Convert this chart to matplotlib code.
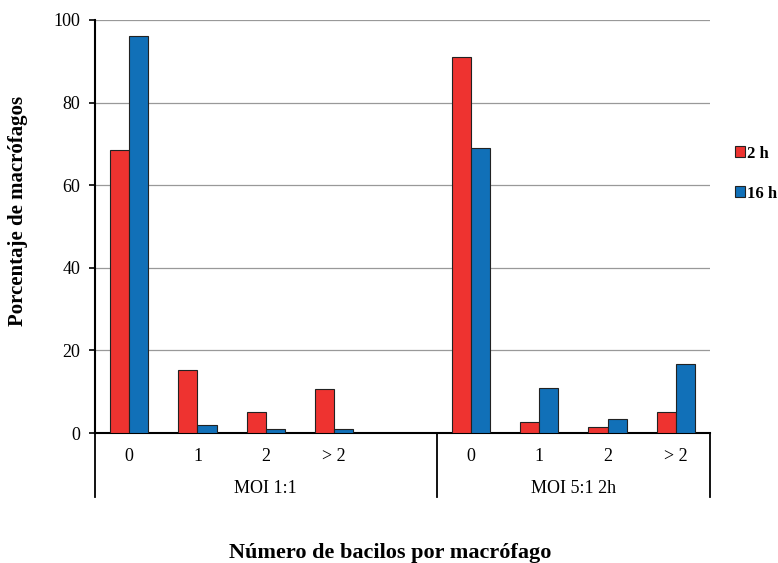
import numpy as np
import matplotlib
matplotlib.use("Agg")
import matplotlib.pyplot as plt

plt.rcParams['font.family'] = ['Liberation Serif', 'DejaVu Serif']

grupos = ['MOI 1:1', 'MOI 5:1 2h']
categorias = ['0', '1', '2', '> 2']
series = ['2 h', '16 h']
valores_2h = [68.6, 15.2, 5.2, 10.7, 91.0, 2.7, 1.5, 5.0]
valores_16h = [96.2, 1.9, 1.0, 0.9, 69.0, 11.0, 3.5, 16.7]
cores = ['#EE3330', '#1170B8']

# left group has one empty slot after "> 2"
pos = np.array([0, 1, 2, 3, 5, 6, 7, 8])
bar_larg = 0.28

fig = plt.figure(figsize=(7.78, 5.63), dpi=100)
ax = fig.add_axes([0.1221, 0.2309, 0.7905, 0.7336])

ax.bar(pos - bar_larg / 2, valores_2h, bar_larg, color=cores[0],
       edgecolor='#222222', linewidth=0.8, label=series[0], zorder=3)
ax.bar(pos + bar_larg / 2, valores_16h, bar_larg, color=cores[1],
       edgecolor='#222222', linewidth=0.8, label=series[1], zorder=3)

ax.set_xlim(-0.5, 8.5)
ax.set_ylim(0, 100)
ax.set_yticks(np.arange(0, 101, 20))
ax.yaxis.grid(True, color='#999999', linewidth=0.9, zorder=0)
ax.tick_params(axis='y', direction='out', length=4.5, width=1.2, labelsize=13, pad=6)

ax.set_xticks(pos)
ax.set_xticklabels(categorias * 2, fontsize=13)
ax.tick_params(axis='x', length=0, pad=11)

for s in ['top', 'right']:
    ax.spines[s].set_visible(False)
ax.spines['left'].set_linewidth(1.5)
ax.spines['bottom'].set_linewidth(1.5)

# multi-level category axis
trans = ax.get_xaxis_transform()
baixo = -64 / 413
for x in [-0.5, 4.5, 8.5]:
    ax.plot([x, x], [0, baixo], color='black', linewidth=1.3,
            transform=trans, clip_on=False)
ax.text(2.0, -55 / 413, grupos[0], transform=trans, ha='center',
        va='center', fontsize=13)
ax.text(6.5, -55 / 413, grupos[1], transform=trans, ha='center',
        va='center', fontsize=13)

fig.text(0.023, 0.625, 'Porcentaje de macrófagos', rotation=90, ha='center',
         va='center', fontsize=15, fontweight='bold')
fig.text(0.502, 0.018, 'Número de bacilos por macrófago', ha='center',
         va='center', fontsize=16, fontweight='bold')

leg = ax.legend(loc='center left', bbox_to_anchor=(1.04, 0.628),
                frameon=False, prop={'weight': 'bold', 'size': 12},
                handlelength=0.62, handleheight=0.62, handletextpad=0.15,
                labelspacing=1.45, borderpad=0, borderaxespad=0)

fig.savefig('out.png', dpi=100)
